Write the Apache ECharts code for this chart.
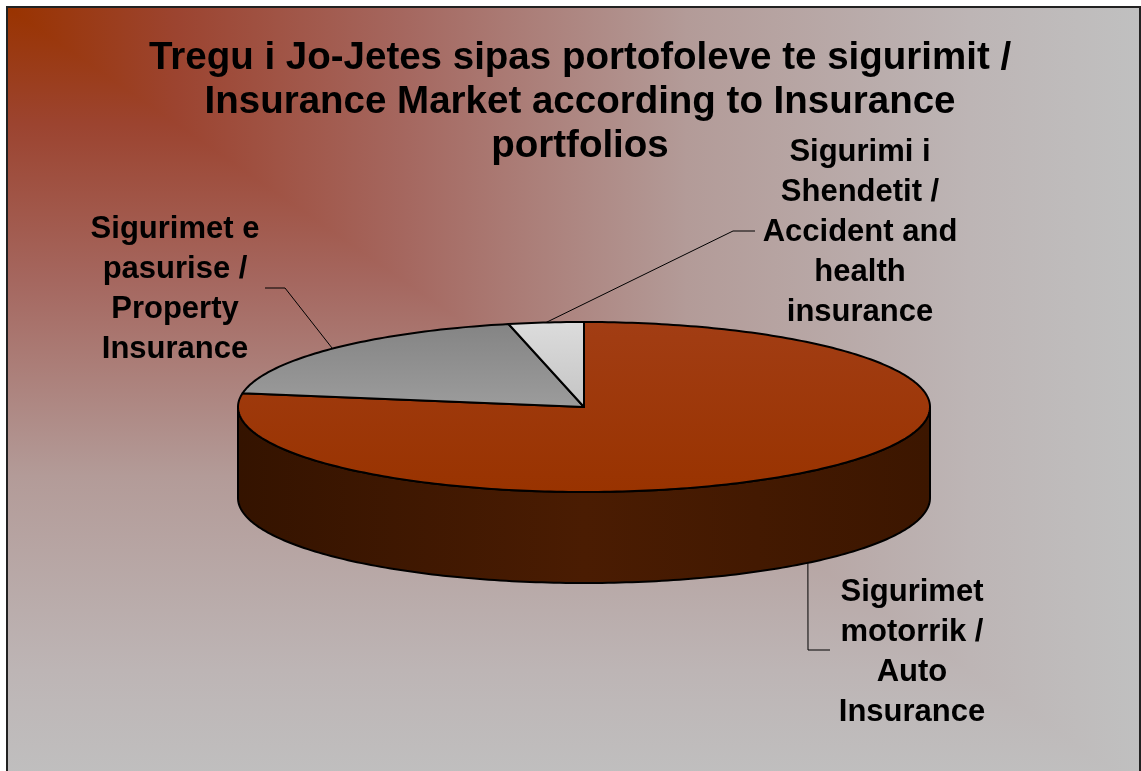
<!DOCTYPE html>
<html>
<head>
<meta charset="utf-8">
<script src="https://cdn.jsdelivr.net/npm/echarts@6/dist/echarts.min.js"></script>
<style>
html, body { margin: 0; padding: 0; background: #fff; }
#frame { position: absolute; left: 6px; top: 6px; width: 1131px; height: 780px; border: 2px solid #222; overflow: hidden; }
.bg { position: absolute; left: 0; top: 0; width: 100%; height: 100%; }
#bgV { background: linear-gradient(to bottom, #993300 0%, #9c4430 15%, #a5675f 35%, #b39b98 60%, #bdb5b5 85%, #c0c0c0 100%); }
#bgH { background: linear-gradient(to right, #993300 0%, #9c4430 15%, #a5675f 35%, #b39b98 60%, #bdb5b5 85%, #c0c0c0 100%);
       clip-path: polygon(0 0, 100% 0, 100% 100%); }
#chart { position: absolute; left: 0; top: 0; width: 1141px; height: 771px; }
</style>
</head>
<body>
<div id="frame"><div id="bgV" class="bg"></div><div id="bgH" class="bg"></div></div>
<div id="chart"></div>
<script>
// non-life market shares by portfolio (%)
const titleText = 'Tregu i Jo-Jetes sipas portofoleve te sigurimit /\nInsurance Market according to Insurance\nportfolios';
const categories = [
  'Sigurimet\nmotorrik /\nAuto\nInsurance',
  'Sigurimet e\npasurise /\nProperty\nInsurance',
  'Sigurimi i\nShendetit /\nAccident and\nhealth\ninsurance'
];
const values = [77.6, 18.9, 3.5];

// layout of the fake 3d disc and the labels
const cx = 584, cy = 407, rx = 346, ry = 85, depth = 91;
const labelPos = [[912, 652], [175, 289], [860, 232]];
const elbows = [[[808, 650], [830, 650]], [[285, 288], [265, 288]], [[733, 231], [755, 231]]];
const topColors = [['#a23d14', '#993300'], ['#848484', '#9c9c9c'], ['#dcdcdc', '#c4c4c4']];
const sideColors = [['#341300', '#4a1c02', '#3c1600'], ['#444', '#555', '#444'], ['#888', '#999', '#888']];

const total = values.reduce((a, b) => a + b, 0);

function pt(deg, dy) {
  const r = deg * Math.PI / 180;
  return [cx + rx * Math.sin(r), cy - ry * Math.cos(r) + (dy || 0)];
}
function arc(a, b, dy) {
  const pts = [];
  const n = Math.max(2, Math.ceil(Math.abs(b - a)));
  for (let i = 0; i <= n; i++) pts.push(pt(a + (b - a) * i / n, dy));
  return pts;
}

const myChart = echarts.init(document.getElementById('chart'));

const option = {
  animation: false,
  graphic: [{
    type: 'text', x: 580, y: 36,
    style: {
      text: titleText, align: 'center', verticalAlign: 'top',
      fontFamily: 'Liberation Sans, Arial, sans-serif', fontWeight: 'bold', fontSize: 38.5,
      lineHeight: 44, fill: '#000'
    }
  }],
  series: [{
    type: 'custom',
    coordinateSystem: 'none',
    data: values,
    renderItem: function (params, api) {
      const i = params.dataIndex;
      let before = 0;
      for (let k = 0; k < i; k++) before += values[k];
      const a0 = before / total * 360;
      const a1 = (before + api.value(0)) / total * 360;
      const mid = (a0 + a1) / 2;
      const children = [];

      children.push({
        type: 'polygon', z2: 10,
        shape: { points: [[cx, cy]].concat(arc(a0, a1, 0)) },
        style: {
          fill: new echarts.graphic.LinearGradient(0, 0, 0, 1, [
            { offset: 0, color: topColors[i][0] }, { offset: 1, color: topColors[i][1] }
          ]),
          stroke: '#000', lineWidth: 2, lineJoin: 'round'
        }
      });

      const s = Math.max(a0, 90), e = Math.min(a1, 270);
      if (e > s) {
        children.push({
          type: 'polygon', z2: 5,
          shape: { points: arc(s, e, 0).concat(arc(e, s, depth)) },
          style: {
            fill: new echarts.graphic.LinearGradient(0, 0, 1, 0, [
              { offset: 0, color: sideColors[i][0] },
              { offset: 0.5, color: sideColors[i][1] },
              { offset: 1, color: sideColors[i][2] }
            ]),
            stroke: '#000', lineWidth: 2, lineJoin: 'round'
          }
        });
      }

      const start = pt(mid, (mid > 90 && mid < 270) ? depth : 0);
      children.push({
        type: 'polyline', z2: 20,
        shape: { points: [start].concat(elbows[i]) },
        style: { stroke: '#000', lineWidth: 1, fill: null }
      });

      children.push({
        type: 'text', z2: 30,
        x: labelPos[i][0], y: labelPos[i][1],
        style: {
          text: categories[i], align: 'center', verticalAlign: 'middle',
          fontFamily: 'Liberation Sans, Arial, sans-serif', fontWeight: 'bold', fontSize: 31,
          lineHeight: 40, fill: '#000'
        }
      });

      return { type: 'group', children: children };
    }
  }]
};

option && myChart.setOption(option);
</script>
</body>
</html>
